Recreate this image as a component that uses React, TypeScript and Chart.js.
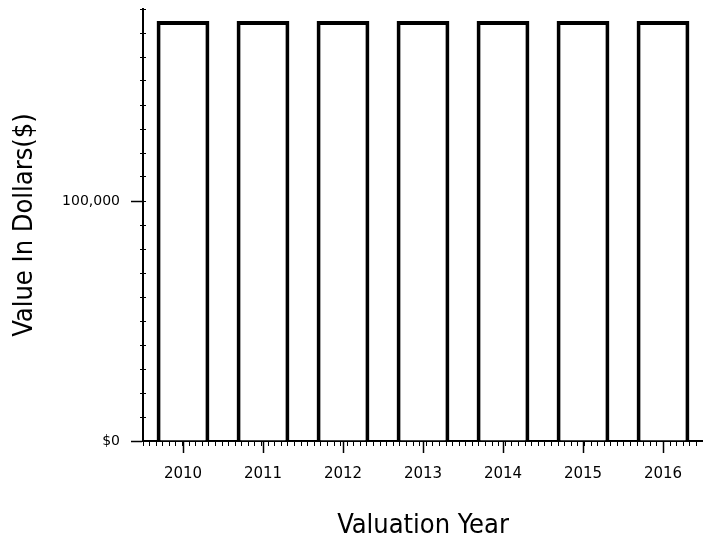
import React, { useEffect, useRef } from "react";
import { Chart, registerables } from "chart.js";

Chart.register(...registerables);

const categories = ["2010", "2011", "2012", "2013", "2014", "2015", "2016"];
const values = [175000, 175000, 175000, 175000, 175000, 175000, 175000];
const yTickValues = [0, 100000];
const yTickLabels = ["$0", "100,000"];
const yMax = 180000;
const yMinorStep = 10000;
const xMinorPerCategory = 12;

const TITLE_FONT = "'DejaVu Sans Condensed', 'DejaVu Sans', sans-serif";
const TICK_FONT = "'DejaVu Sans', sans-serif";

export default function App() {
  const ref = useRef<HTMLCanvasElement | null>(null);

  useEffect(() => {
    document.body.style.margin = "0";
    const canvas = ref.current;
    if (!canvas) return;
    const chart = new Chart(canvas, {
      type: "bar",
      data: {
        labels: categories,
        datasets: [
          {
            data: values,
            backgroundColor: "#ffffff",
            borderColor: "#000000",
            borderWidth: 4,
            borderSkipped: "bottom",
            categoryPercentage: 1,
            barPercentage: 0.66,
          },
        ],
      },
      options: {
        animation: false,
        responsive: false,
        maintainAspectRatio: false,
        layout: { padding: { top: 9, right: 0, left: 0, bottom: 0 } },
        plugins: { legend: { display: false }, tooltip: { enabled: false } },
        scales: {
          x: {
            type: "category",
            offset: true,
            grid: {
              display: true,
              offset: false,
              drawOnChartArea: false,
              drawTicks: true,
              tickLength: 12,
              color: "#000000",
              tickWidth: 1.5,
            },
            border: { display: true, color: "#000000", width: 2 },
            ticks: {
              color: "#000000",
              font: { family: TICK_FONT, size: 15 },
              padding: 12,
              maxRotation: 0,
              autoSkip: false,
            },
            title: {
              display: true,
              text: "Valuation Year",
              color: "#000000",
              font: { family: TITLE_FONT, size: 27, weight: "normal" },
              padding: { top: 0, bottom: 4 },
            },
            afterFit: (s: any) => {
              s.height = 105;
              s.paddingLeft = 0;
              s.paddingRight = 0;
            },
          },
          x2: {
            type: "linear",
            axis: "x",
            position: { y: 0 } as any,
            min: 0,
            max: categories.length,
            grid: {
              display: true,
              drawOnChartArea: false,
              drawTicks: true,
              tickLength: 5,
              color: "#000000",
              tickWidth: 1,
            },
            border: { display: false },
            ticks: {
              display: false,
              stepSize: 1 / xMinorPerCategory,
              maxTicksLimit: 1000,
              autoSkip: false,
            },
          },
          y: {
            type: "linear",
            min: 0,
            max: yMax,
            grid: {
              display: true,
              drawOnChartArea: false,
              drawTicks: true,
              tickLength: 12,
              color: "#000000",
              tickWidth: 1.5,
            },
            border: { display: true, color: "#000000", width: 2 },
            afterBuildTicks: (s: any) => {
              s.ticks = yTickValues.map((v) => ({ value: v }));
            },
            ticks: {
              color: "#000000",
              font: { family: TICK_FONT, size: 14 },
              padding: 11,
              callback: (v: any) => {
                const i = yTickValues.indexOf(Number(v));
                return i >= 0 ? yTickLabels[i] : "";
              },
            },
            title: {
              display: true,
              text: "Value In Dollars($)",
              color: "#000000",
              font: { family: TITLE_FONT, size: 27, weight: "normal" },
              padding: { top: 9, bottom: 0 },
            },
            afterFit: (s: any) => {
              s.width = 143;
              s.paddingTop = 0;
              s.paddingBottom = 0;
            },
          },
          y2: {
            type: "linear",
            axis: "y",
            position: { x2: 0 } as any,
            min: 0,
            max: yMax,
            grid: {
              display: true,
              drawOnChartArea: false,
              drawTicks: true,
              tickLength: 6,
              color: "#000000",
              tickWidth: 1,
            },
            border: { display: false },
            ticks: {
              display: false,
              stepSize: yMinorStep,
              maxTicksLimit: 1000,
              autoSkip: false,
            },
          },
        },
      },
    });
    return () => chart.destroy();
  }, []);

  return (
    <div style={{ position: "absolute", left: 0, top: 0, width: 703, height: 546, background: "#fff" }}>
      <canvas ref={ref} width={703} height={546} style={{ width: 703, height: 546 }} />
    </div>
  );
}
